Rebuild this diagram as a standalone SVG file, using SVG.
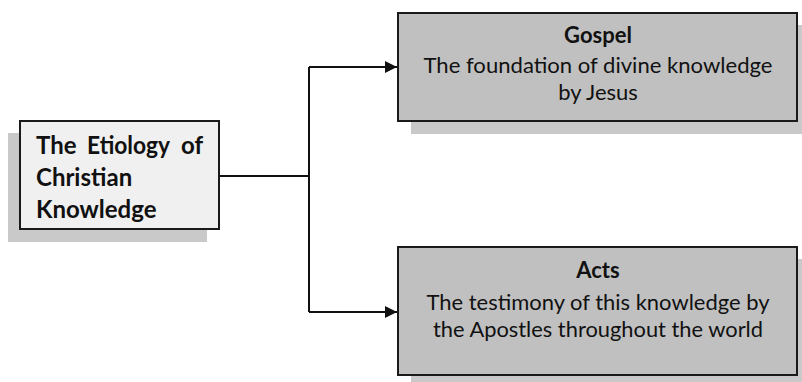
<svg xmlns="http://www.w3.org/2000/svg" width="802" height="382" viewBox="0 0 802 382">
<style>
.box{stroke:#1a1a1a;stroke-width:2}
.sh{fill:#c9c9c9}
.t{font-family:Lato,"Open Sans","Liberation Sans",sans-serif;fill:#111;font-size:22px}
.l{font-size:24px;font-weight:bold}
.b{font-weight:bold}
.m{text-anchor:middle}
.con{fill:none;stroke:#111;stroke-width:2}
</style>
<defs>
<marker id="ah" markerWidth="12" markerHeight="12" refX="12" refY="6" orient="auto" markerUnits="userSpaceOnUse">
<path d="M0,0 L12,6 L0,12 Z" fill="#111"/>
</marker>
</defs>
<rect width="802" height="382" fill="#fff"/>
<g id="connectors">
<path class="con" d="M219,176 H309"/>
<path class="con" d="M309,67 V312"/>
<path class="con" d="M309,67 H397" marker-end="url(#ah)"/>
<path class="con" d="M309,312 H397" marker-end="url(#ah)"/>
</g>
<g id="etiology">
<rect class="sh" x="8" y="133" width="199" height="109"/>
<rect class="box" x="20" y="121" width="199" height="108" fill="#f0f0f0"/>
<text class="t l" x="36" y="154">The</text>
<text class="t l" x="87" y="154" textLength="83" lengthAdjust="spacingAndGlyphs">Etiology</text>
<text class="t l" x="203" y="154" text-anchor="end">of</text>
<text class="t l" x="36" y="186">Christian</text>
<text class="t l" x="36" y="218">Knowledge</text>
</g>
<g id="gospel">
<rect class="sh" x="411" y="25" width="391" height="109"/>
<rect class="box" x="398" y="13" width="399" height="108" fill="#c0c0c0"/>
<text class="t b m" x="598" y="43">Gospel</text>
<text class="t m" x="598" y="73" textLength="349" lengthAdjust="spacingAndGlyphs">The foundation of divine knowledge</text>
<text class="t m" x="598" y="100">by Jesus</text>
</g>
<g id="acts">
<rect class="sh" x="411" y="259" width="391" height="123"/>
<rect class="box" x="398" y="247" width="399" height="128" fill="#c0c0c0"/>
<text class="t b m" x="598" y="278">Acts</text>
<text class="t m" x="598" y="310" textLength="343" lengthAdjust="spacingAndGlyphs">The testimony of this knowledge by</text>
<text class="t m" x="598" y="337" textLength="330" lengthAdjust="spacingAndGlyphs">the Apostles throughout the world</text>
</g>
</svg>
